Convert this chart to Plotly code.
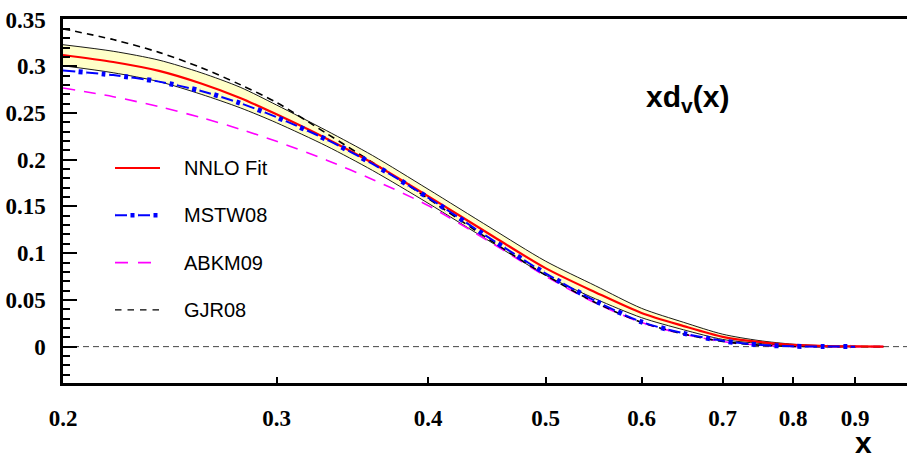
import math
import plotly.graph_objects as go

# ---------------- data ----------------
x_vals = [0.20, 0.22, 0.24, 0.26, 0.28, 0.30, 0.33, 0.36, 0.40, 0.45,
          0.50, 0.55, 0.60, 0.65, 0.70, 0.75, 0.80, 0.85, 0.90, 0.95]

nnlo_fit = [0.3120, 0.3045, 0.2950, 0.2815, 0.2660, 0.2485, 0.2225, 0.1965, 0.1610, 0.1200,
            0.0840, 0.0580, 0.0360, 0.0220, 0.0105, 0.0050, 0.0018, 0.0006, 0.0002, 0.0]
nnlo_hi = [0.3230, 0.3160, 0.3065, 0.2930, 0.2775, 0.2585, 0.2310, 0.2045, 0.1685, 0.1275,
           0.0915, 0.0650, 0.0410, 0.0260, 0.0133, 0.0065, 0.0026, 0.0009, 0.0003, 0.0]
nnlo_lo = [0.3005, 0.2930, 0.2835, 0.2700, 0.2555, 0.2395, 0.2145, 0.1885, 0.1535, 0.1125,
           0.0765, 0.0510, 0.0310, 0.0180, 0.0077, 0.0035, 0.0010, 0.0003, 0.0001, 0.0]
mstw08 = [0.2955, 0.2905, 0.2835, 0.2735, 0.2605, 0.2455, 0.2215, 0.1955, 0.1595, 0.1158,
          0.0784, 0.0487, 0.0265, 0.0142, 0.0062, 0.0019, 0.0004, 0.0001, 0.0, 0.0]
abkm09 = [0.2767, 0.2674, 0.2567, 0.2450, 0.2326, 0.2196, 0.1995, 0.1789, 0.1510, 0.1120,
          0.0755, 0.0465, 0.0258, 0.0133, 0.0055, 0.0016, 0.0003, 0.0, 0.0, 0.0]
gjr08 = [0.3400, 0.3285, 0.3148, 0.2985, 0.2803, 0.2612, 0.2280, 0.1970, 0.1585, 0.1140,
         0.0765, 0.0470, 0.0260, 0.0135, 0.0055, 0.0016, 0.0003, 0.0, 0.0, 0.0]

x_ticks = [0.2, 0.3, 0.4, 0.5, 0.6, 0.7, 0.8, 0.9]
x_tick_labels = ["0.2", "0.3", "0.4", "0.5", "0.6", "0.7", "0.8", "0.9"]
y_ticks = [0, 0.05, 0.1, 0.15, 0.2, 0.25, 0.3, 0.35]
y_tick_labels = ["0", "0.05", "0.1", "0.15", "0.2", "0.25", "0.3", "0.35"]

legend_names = ["NNLO Fit", "MSTW08", "ABKM09", "GJR08"]

# ---------------- styles ----------------
RED = "#ff0000"
BLUE = "#0000ff"
MAG = "#ff00ff"
BAND = "#ffffc8"
SM = 0.8

fig = go.Figure()

# uncertainty band
fig.add_trace(go.Scatter(x=x_vals, y=nnlo_lo, mode="lines",
                         line=dict(color="black", width=0.9, shape="spline", smoothing=SM),
                         showlegend=False, hoverinfo="skip"))
fig.add_trace(go.Scatter(x=x_vals, y=nnlo_hi, mode="lines", fill="tonexty", fillcolor=BAND,
                         line=dict(color="black", width=0.9, shape="spline", smoothing=SM),
                         showlegend=False, hoverinfo="skip"))
# ABKM09
fig.add_trace(go.Scatter(x=x_vals, y=abkm09, mode="lines", name="ABKM09",
                         line=dict(color=MAG, width=1.6, dash="12px,9px", shape="spline", smoothing=SM),
                         showlegend=False))
# GJR08
fig.add_trace(go.Scatter(x=x_vals, y=gjr08, mode="lines", name="GJR08",
                         line=dict(color="black", width=1.6, dash="7px,5px", shape="spline", smoothing=SM),
                         showlegend=False))
# NNLO fit
fig.add_trace(go.Scatter(x=x_vals, y=nnlo_fit, mode="lines", name="NNLO Fit",
                         line=dict(color=RED, width=2.2, shape="spline", smoothing=SM),
                         showlegend=False))
# MSTW08: dash part + dot part (same path, complementary dash patterns)
x_m = x_vals[:-1]
y_m = mstw08[:-1]
fig.add_trace(go.Scatter(x=x_m, y=y_m, mode="lines", name="MSTW08",
                         line=dict(color=BLUE, width=2, dash="12px,11px", shape="spline", smoothing=SM),
                         showlegend=False))
fig.add_trace(go.Scatter(x=x_m, y=y_m, mode="lines", name="MSTW08 dots",
                         line=dict(color=BLUE, width=5, dash="0.1px,15.4px,4px,3.5px", shape="spline", smoothing=SM),
                         showlegend=False, hoverinfo="skip"))

# ---------------- layout geometry ----------------
W, H = 907, 457
ML, MR, MT, MB = 63, 0, 19, 74
PW, PH = W - ML - MR, H - MT - MB
X_DECADE_PX = 1212.5
x_lo = math.log10(0.2)
x_hi = x_lo + PW / X_DECADE_PX
y_lo, y_hi = -0.0389, 0.3505


def px_to_paper_x(px):
    return (px - ML) / PW


def px_to_paper_y(py):
    return (H - MB - py) / PH


shapes = []
annotations = []

# zero line
shapes.append(dict(type="line", xref="paper", yref="y", x0=0, x1=1, y0=0, y1=0,
                   line=dict(color="#444444", width=1, dash="6px,4px"), layer="below"))

# manual legend
legend_styles = [
    [dict(color=RED, width=2, dash="solid")],
    [dict(color=BLUE, width=2, dash="12px,11px"), dict(color=BLUE, width=4.5, dash="0.1px,15.4px,4px,3.5px")],
    [dict(color=MAG, width=1.6, dash="13px,10px")],
    [dict(color="black", width=1.4, dash="6.5px,6px")],
]
leg_x0, leg_x1, leg_tx = 115, 160, 182
leg_y0, leg_dy = 168, 47.3
for i, (name, styles) in enumerate(zip(legend_names, legend_styles)):
    yy = px_to_paper_y(leg_y0 + i * leg_dy)
    for st in styles:
        shapes.append(dict(type="line", xref="paper", yref="paper",
                           x0=px_to_paper_x(leg_x0), x1=px_to_paper_x(leg_x1), y0=yy, y1=yy,
                           line=st))
    annotations.append(dict(text=name, xref="paper", yref="paper", x=px_to_paper_x(leg_tx), y=yy,
                            xanchor="left", yanchor="middle", showarrow=False,
                            font=dict(family="Liberation Sans", size=20, color="black")))

# function label
annotations.append(dict(text="xd<sub>v</sub>(x)", xref="paper", yref="paper",
                        x=px_to_paper_x(687), y=px_to_paper_y(98), xanchor="center", yanchor="middle",
                        showarrow=False,
                        font=dict(family="Liberation Sans", size=30, color="black", weight="bold")))
# x axis title
annotations.append(dict(text="x", xref="paper", yref="paper",
                        x=px_to_paper_x(863), y=px_to_paper_y(442), xanchor="center", yanchor="middle",
                        showarrow=False,
                        font=dict(family="Liberation Sans", size=30, color="black", weight="bold")))

tick_font = dict(family="Liberation Serif", size=23, color="black", weight="bold")

fig.update_layout(
    width=W, height=H,
    margin=dict(l=ML, r=MR, t=MT, b=MB, pad=0),
    paper_bgcolor="white", plot_bgcolor="white",
    showlegend=False,
    shapes=shapes, annotations=annotations,
    xaxis=dict(type="log", range=[x_lo, x_hi], tickvals=x_ticks, ticktext=x_tick_labels,
               ticks="inside", ticklen=6, tickwidth=1.5, tickcolor="black",
               showline=True, linecolor="black", linewidth=2.5, mirror=True,
               showgrid=False, zeroline=False, tickfont=tick_font, ticklabelstandoff=13),
    yaxis=dict(range=[y_lo, y_hi], tickvals=y_ticks, ticktext=y_tick_labels,
               ticks="inside", ticklen=14, tickwidth=1.5, tickcolor="black",
               minor=dict(dtick=0.01, tick0=0, ticks="inside", ticklen=7, tickwidth=1.5,
                          tickcolor="black", showgrid=False),
               showline=True, linecolor="black", linewidth=2.5,
               showgrid=False, zeroline=False, tickfont=tick_font, ticklabelstandoff=10),
)

fig.write_html("out.html")
